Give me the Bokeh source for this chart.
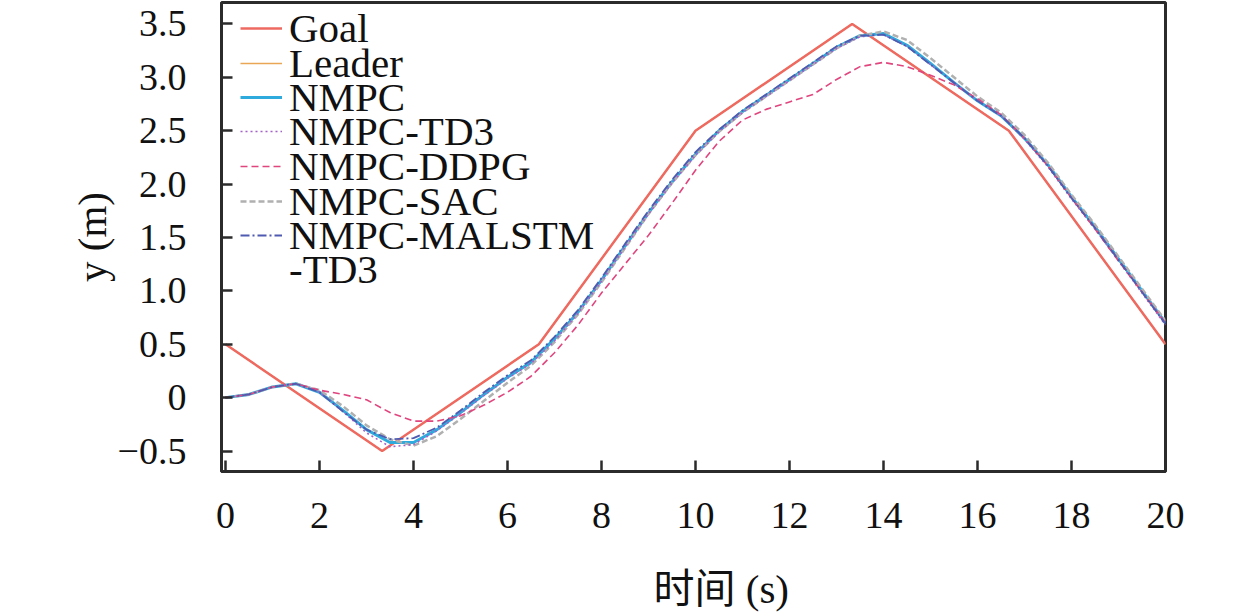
from bokeh.plotting import figure
from bokeh.models import Range1d, FixedTicker, Legend, LegendItem, Title
from bokeh.embed import file_html
from bokeh.resources import INLINE

# ---- data ----
goal_t = [0.0, 3.333, 6.667, 10.0, 13.333, 16.667, 20.0]
goal_y = [0.5, -0.5, 0.5, 2.5, 3.5, 2.5, 0.5]
leader_t = [0.0, 3.333, 6.667, 10.0, 13.333, 16.667, 20.0]
leader_y = [0.5, -0.5, 0.5, 2.5, 3.5, 2.5, 0.5]

t = [0.0, 0.5, 1.0, 1.5, 2.0, 2.5, 3.0, 3.5, 4.0, 4.5, 5.0, 5.5, 6.0, 6.5, 7.0,
     7.5, 8.0, 8.5, 9.0, 9.5, 10.0, 10.5, 11.0, 11.5, 12.0, 12.5, 13.0, 13.5,
     14.0, 14.5, 15.0, 15.5, 16.0, 16.5, 17.0, 17.5, 18.0, 18.5, 19.0, 19.5, 20.0]
nmpc = [0.0, 0.03, 0.10, 0.13, 0.05, -0.12, -0.30, -0.42, -0.42, -0.30, -0.14,
        0.03, 0.19, 0.33, 0.55, 0.80, 1.10, 1.42, 1.73, 2.02, 2.28, 2.50, 2.68,
        2.83, 2.98, 3.13, 3.28, 3.39, 3.41, 3.30, 3.13, 2.95, 2.78, 2.64, 2.43,
        2.18, 1.88, 1.60, 1.30, 1.00, 0.70]
td3 = [0.0, 0.03, 0.10, 0.13, 0.05, -0.13, -0.33, -0.46, -0.44, -0.31, -0.15,
       0.02, 0.18, 0.32, 0.53, 0.79, 1.09, 1.41, 1.72, 2.01, 2.27, 2.49, 2.67,
       2.82, 2.97, 3.12, 3.27, 3.38, 3.40, 3.29, 3.12, 2.95, 2.78, 2.64, 2.42,
       2.16, 1.86, 1.58, 1.28, 0.98, 0.68]
ddpg = [0.0, 0.03, 0.10, 0.13, 0.07, 0.03, -0.02, -0.14, -0.22, -0.22, -0.17,
        -0.07, 0.05, 0.20, 0.42, 0.68, 0.98, 1.25, 1.52, 1.82, 2.13, 2.40, 2.60,
        2.70, 2.77, 2.84, 2.98, 3.10, 3.14, 3.10, 3.02, 2.93, 2.80, 2.65, 2.43,
        2.17, 1.87, 1.58, 1.28, 0.99, 0.70]
sac = [0.0, 0.03, 0.10, 0.13, 0.07, -0.08, -0.26, -0.39, -0.45, -0.36, -0.20,
       -0.03, 0.14, 0.30, 0.52, 0.78, 1.08, 1.40, 1.72, 2.01, 2.27, 2.49, 2.67,
       2.82, 2.97, 3.12, 3.27, 3.39, 3.43, 3.35, 3.18, 3.00, 2.82, 2.67, 2.46,
       2.20, 1.90, 1.62, 1.32, 1.02, 0.72]
malstm = [0.0, 0.03, 0.10, 0.13, 0.05, -0.13, -0.30, -0.39, -0.38, -0.28, -0.12,
          0.05, 0.21, 0.35, 0.57, 0.82, 1.12, 1.44, 1.75, 2.04, 2.30, 2.51, 2.69,
          2.84, 2.99, 3.14, 3.29, 3.39, 3.40, 3.29, 3.12, 2.95, 2.78, 2.64, 2.43,
          2.17, 1.87, 1.59, 1.29, 0.99, 0.69]

x_ticks = [0, 2, 4, 6, 8, 10, 12, 14, 16, 18, 20]
y_ticks = [-0.5, 0.0, 0.5, 1.0, 1.5, 2.0, 2.5, 3.0, 3.5]
y_tick_labels = ["\u22120.5", "0", "0.5", "1.0", "1.5", "2.0", "2.5", "3.0", "3.5"]
x_title = "时间 (s)"
y_title = "y (m)"
legend_labels = ["Goal", "Leader", "NMPC", "NMPC-TD3", "NMPC-DDPG", "NMPC-SAC",
                 "NMPC-MALSTM", "-TD3"]

SERIF = "Liberation Serif"
AXLAB_FONT = "Liberation Serif, Noto Sans CJK SC"
INK = "#111111"

p = figure(width=1251, height=613, output_backend="svg", toolbar_location=None,
           x_range=Range1d(-0.085, 20.0), y_range=Range1d(-0.692, 3.701),
           min_border_left=221, min_border_right=86, min_border_top=2,
           min_border_bottom=141)
p.xgrid.visible = False
p.ygrid.visible = False
p.outline_line_color = "#2b2b2b"
p.outline_line_width = 3
p.outline_line_alpha = 1
p.background_fill_color = "white"
p.border_fill_color = "white"

# lines
r_leader = p.line(leader_t, leader_y, line_color="#E9A654", line_width=1.5)
r_goal = p.line(goal_t, goal_y, line_color="#EE6A60", line_width=2.5)
r_nmpc = p.line(t, nmpc, line_color="#2EAADC", line_width=3)
r_sac = p.line(t, sac, line_color="#B0B0B0", line_width=2.5, line_dash="6 3")
r_td3 = p.line(t, td3, line_color="#A460C8", line_width=1.6, line_dash="2 3")
r_ddpg = p.line(t, ddpg, line_color="#E0457E", line_width=1.6, line_dash="7 4")
r_malstm = p.line(t, malstm, line_color="#4F5BB0", line_width=1.8, line_dash="9 3 2 3")
r_blank = p.line([0, 0], [0, 0], line_alpha=0)

# axes
for ax in (p.xaxis[0], p.yaxis[0]):
    ax.axis_line_width = 3
    ax.axis_line_color = "#2b2b2b"
    ax.major_tick_line_width = 2.5
    ax.major_tick_line_color = "#2b2b2b"
    ax.major_tick_in = 11
    ax.major_tick_out = 0
    ax.minor_tick_line_color = None
    ax.major_label_text_font = SERIF
    ax.major_label_text_font_size = "38px"
    ax.major_label_text_color = INK

p.xaxis.ticker = FixedTicker(ticks=x_ticks)
p.yaxis.ticker = FixedTicker(ticks=y_ticks)
p.yaxis.major_label_overrides = {v: s for v, s in zip(y_ticks, y_tick_labels)}
p.xaxis.major_label_standoff = 31
p.yaxis.major_label_standoff = 35

p.yaxis.axis_label = y_title
p.yaxis.axis_label_text_font = SERIF
p.yaxis.axis_label_text_font_size = "41px"
p.yaxis.axis_label_text_font_style = "normal"
p.yaxis.axis_label_text_color = INK
p.yaxis.axis_label_standoff = 0

# blank spacer under the tick labels so the x title sits as low as in the reference
p.xaxis.axis_label = "\u00a0"
p.xaxis.axis_label_text_font = SERIF
p.xaxis.axis_label_text_font_size = "20px"
p.xaxis.axis_label_standoff = 10

# x title as a title below the axis, shifted right like the reference
p.add_layout(Title(text=x_title, align="left", offset=432, standoff=0,
                   vertical_align="top",
                   text_font=AXLAB_FONT, text_font_size="41px",
                   text_font_style="normal", text_color=INK), "below")

# legend: one legend per row so the rows can be packed as tightly as the reference
renderers = [r_goal, r_leader, r_nmpc, r_td3, r_ddpg, r_sac, r_malstm, r_blank]
for i, (lab, r) in enumerate(zip(legend_labels, renderers)):
    lg = Legend(items=[LegendItem(label=lab, renderers=[r])],
                location=(19, int(round(419 - 34.5 * i))))
    lg.label_text_font = SERIF
    lg.label_text_font_size = "41px"
    lg.label_text_color = INK
    lg.glyph_width = 42
    lg.label_standoff = 7
    lg.padding = 0
    lg.margin = 0
    lg.border_line_alpha = 0
    lg.background_fill_alpha = 0
    p.add_layout(lg)

open("out.html", "w").write(file_html(p, INLINE))
